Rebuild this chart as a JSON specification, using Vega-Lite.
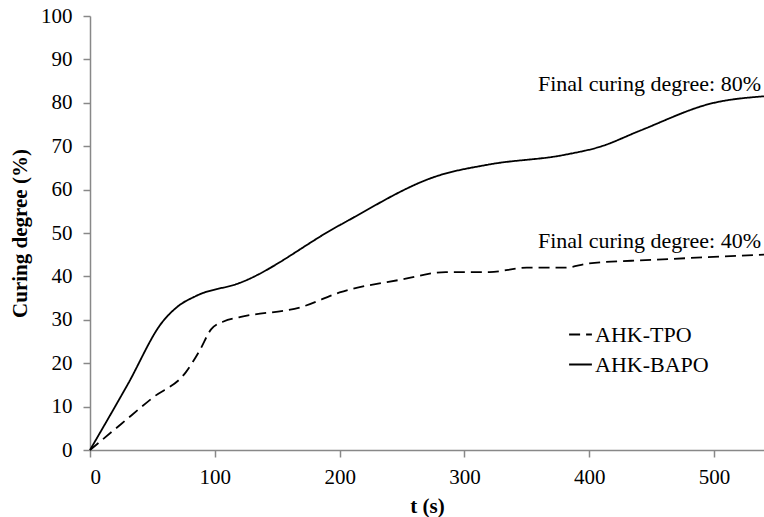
{
  "$schema": "https://vega.github.io/schema/vega-lite/v6.json",
  "width": 674,
  "height": 434,
  "autosize": "none",
  "padding": {"left": 90, "top": 16, "right": 0, "bottom": 67},
  "background": "white",
  "config": {
    "font": "Times New Roman",
    "view": {"stroke": null},
    "axis": {"grid": false, "domainColor": "#888888", "tickColor": "#888888", "domainWidth": 1.5, "tickWidth": 1.5, "tickSize": 7, "labelColor": "black", "labelFontSize": 21, "labelFont": "Times New Roman", "titleFont": "Times New Roman", "titleFontSize": 21, "titleColor": "black", "titleFontWeight": "bold"},
    "legend": {"labelFont": "Times New Roman"}
  },
  "datasets": {
    "curves": [
      {"t": 0, "c": 0, "s": "AHK-TPO"},
      {"t": 25, "c": 6, "s": "AHK-TPO"},
      {"t": 50, "c": 12, "s": "AHK-TPO"},
      {"t": 77, "c": 18, "s": "AHK-TPO"},
      {"t": 88, "c": 23, "s": "AHK-TPO"},
      {"t": 97, "c": 27.8, "s": "AHK-TPO"},
      {"t": 107, "c": 29.6, "s": "AHK-TPO"},
      {"t": 120, "c": 30.6, "s": "AHK-TPO"},
      {"t": 170, "c": 33, "s": "AHK-TPO"},
      {"t": 200, "c": 36.3, "s": "AHK-TPO"},
      {"t": 250, "c": 39.3, "s": "AHK-TPO"},
      {"t": 285, "c": 41, "s": "AHK-TPO"},
      {"t": 320, "c": 41, "s": "AHK-TPO"},
      {"t": 350, "c": 42, "s": "AHK-TPO"},
      {"t": 380, "c": 42, "s": "AHK-TPO"},
      {"t": 400, "c": 43, "s": "AHK-TPO"},
      {"t": 450, "c": 43.8, "s": "AHK-TPO"},
      {"t": 540, "c": 45, "s": "AHK-TPO"},
      {"t": 0, "c": 0, "s": "AHK-BAPO"},
      {"t": 30, "c": 15, "s": "AHK-BAPO"},
      {"t": 58, "c": 29.5, "s": "AHK-BAPO"},
      {"t": 70, "c": 33, "s": "AHK-BAPO"},
      {"t": 85, "c": 35.5, "s": "AHK-BAPO"},
      {"t": 120, "c": 38.5, "s": "AHK-BAPO"},
      {"t": 200, "c": 51.8, "s": "AHK-BAPO"},
      {"t": 280, "c": 63.3, "s": "AHK-BAPO"},
      {"t": 320, "c": 65.8, "s": "AHK-BAPO"},
      {"t": 380, "c": 68, "s": "AHK-BAPO"},
      {"t": 410, "c": 70, "s": "AHK-BAPO"},
      {"t": 440, "c": 73.5, "s": "AHK-BAPO"},
      {"t": 500, "c": 80, "s": "AHK-BAPO"},
      {"t": 540, "c": 81.5, "s": "AHK-BAPO"}
    ],
    "notes": [
      {"t": 540, "c": 82.7, "label": "Final curing degree: 80%"},
      {"t": 540, "c": 46.5, "label": "Final curing degree: 40%"}
    ]
  },
  "layer": [
    {
      "data": {"name": "curves"},
      "mark": {"type": "line", "interpolate": "monotone", "color": "black", "strokeWidth": 1.8},
      "encoding": {
        "x": {"field": "t", "type": "quantitative", "scale": {"domain": [0, 540], "nice": false}, "axis": {"values": [0, 100, 200, 300, 400, 500], "title": "t (s)", "titlePadding": 8, "labelPadding": 9}},
        "y": {"field": "c", "type": "quantitative", "scale": {"domain": [0, 100]}, "axis": {"values": [0, 10, 20, 30, 40, 50, 60, 70, 80, 90, 100], "title": "Curing degree (%)", "titlePadding": 10, "labelPadding": 11}},
        "strokeDash": {
          "field": "s", "type": "nominal",
          "scale": {"domain": ["AHK-TPO", "AHK-BAPO"], "range": [[11, 6], [1, 0]]},
          "legend": {"title": null, "orient": "none", "legendX": 478, "legendY": 306, "symbolType": "stroke", "symbolSize": 520, "symbolStrokeWidth": 2, "symbolStrokeColor": "black", "labelFontSize": 22, "labelFont": "Times New Roman", "labelColor": "black", "rowPadding": 6, "labelOffset": 2}
        }
      }
    },
    {
      "data": {"name": "notes"},
      "mark": {"type": "text", "align": "right", "baseline": "alphabetic", "dx": -3, "fontSize": 22, "font": "Times New Roman", "color": "black"},
      "encoding": {
        "x": {"field": "t", "type": "quantitative"},
        "y": {"field": "c", "type": "quantitative"},
        "text": {"field": "label"}
      }
    }
  ]
}
